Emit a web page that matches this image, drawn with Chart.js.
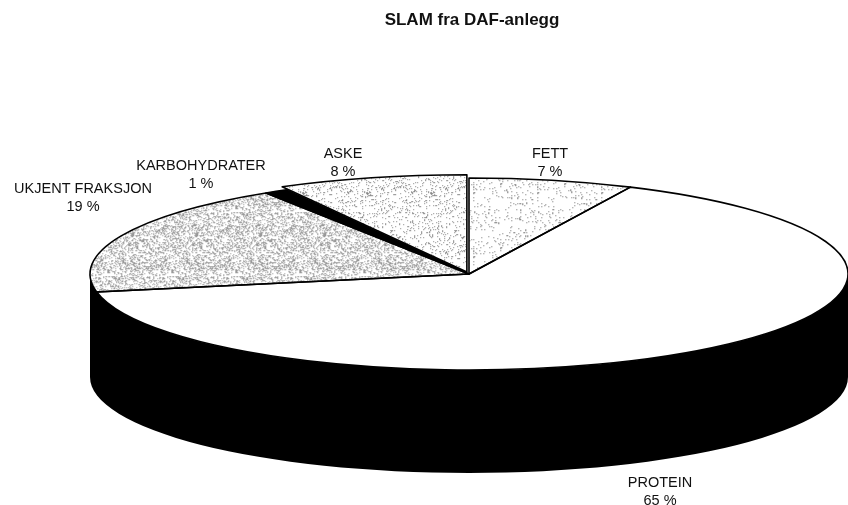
<!DOCTYPE html>
<html>
<head>
<meta charset="utf-8">
<script src="https://cdn.jsdelivr.net/npm/chart.js@4"></script>
<style>
  body { margin: 0; background: #fff; }
</style>
</head>
<body>
<canvas id="slam" width="848" height="505"></canvas>
<script>
const categories = ["FETT", "PROTEIN", "UKJENT FRAKSJON", "KARBOHYDRATER", "ASKE"];
const shares = [7, 65, 19, 1, 8];

// look of the 3d disc
const view = { cx: 469, cy: 274, rx: 379, ry: 96, depth: 103 };
const pulledOut = [0, 0, 0, 0, 20];
const labelSpots = [[550, 154], [660, 483], [83, 189], [201, 166], [343, 154]];
const labelFont = '14.5px "Liberation Sans", Arial, sans-serif';

// speckled fills like the printed original
function stipple(density, ink, seed) {
    const size = 64;
    const c = document.createElement('canvas');
    c.width = c.height = size;
    const g = c.getContext('2d');
    g.fillStyle = '#fff';
    g.fillRect(0, 0, size, size);
    g.fillStyle = ink;
    for (let n = 0; n < size * size; n++) {
        let h = Math.imul(n + seed * 7919, 0x9e3779b1);
        h ^= h >>> 16;
        h = Math.imul(h, 0x85ebca6b);
        h ^= h >>> 13;
        h = Math.imul(h, 0xc2b2ae35);
        h ^= h >>> 16;
        if ((h >>> 0) % 1000 < density * 1000) g.fillRect(n % size, Math.floor(n / size), 1, 1);
    }
    return g.createPattern(c, 'repeat');
}

const fills = [stipple(0.06, '#777', 1), '#fff', stipple(0.34, '#999', 2), '#000', stipple(0.12, '#888', 3)];

const tilt = {
    id: 'tilt',
    beforeDatasetsDraw(chart) {
        const ctx = chart.ctx;
        const a = chart.getDatasetMeta(0).data[0];
        const sx = view.rx / a.outerRadius, sy = view.ry / a.outerRadius;
        fills.forEach(f => { if (typeof f !== 'string') f.setTransform(new DOMMatrix([1 / sx, 0, 0, 1 / sy, 0, 0])); });
        ctx.save();
        ctx.translate(view.cx, view.cy);
        ctx.scale(sx, sy);
        ctx.translate(-a.x, -a.y);
        // side wall of the disc
        ctx.fillStyle = '#000';
        ctx.beginPath();
        ctx.arc(a.x, a.y, a.outerRadius, 0, Math.PI);
        ctx.arc(a.x, a.y + view.depth / sy, a.outerRadius, Math.PI, 0, true);
        ctx.closePath();
        ctx.fill();
    },
    afterDatasetsDraw(chart) {
        const ctx = chart.ctx;
        const arcs = chart.getDatasetMeta(0).data;
        // outlines, built in the tilted space but stroked flat
        arcs.forEach(arc => {
            const off = (arc.options.offset || 0) / 4;
            const mid = (arc.startAngle + arc.endAngle) / 2;
            const circ = arc.endAngle - arc.startAngle;
            const x = arc.x + Math.cos(mid) * off, y = arc.y + Math.sin(mid) * off;
            const r = arc.outerRadius + off * (1 - Math.sin(Math.min(Math.PI, circ)));
            ctx.beginPath();
            ctx.moveTo(x, y);
            ctx.arc(x, y, r, arc.startAngle, arc.endAngle);
            ctx.closePath();
            ctx.save();
            ctx.setTransform(1, 0, 0, 1, 0, 0);
            ctx.lineWidth = 1.6;
            ctx.lineJoin = 'round';
            ctx.strokeStyle = '#000';
            ctx.stroke();
            ctx.restore();
        });
        ctx.restore();

        ctx.save();
        ctx.font = labelFont;
        ctx.fillStyle = '#111';
        ctx.textAlign = 'center';
        ctx.textBaseline = 'middle';
        categories.forEach((name, i) => {
            const [lx, ly] = labelSpots[i];
            ctx.fillText(name, lx, ly);
            ctx.fillText(shares[i] + ' %', lx, ly + 18);
        });
        ctx.restore();
    }
};

new Chart(document.getElementById('slam'), {
    type: 'pie',
    data: {
        labels: categories,
        datasets: [{
            data: shares,
            backgroundColor: fills,
            borderWidth: 0,
            offset: pulledOut,
            hoverOffset: 0,
            clip: false
        }]
    },
    options: {
        responsive: false,
        animation: false,
        events: [],
        layout: { padding: { left: 96 } },
        plugins: {
            legend: { display: false },
            tooltip: { enabled: false },
            title: {
                display: true,
                text: 'SLAM fra DAF-anlegg',
                color: '#111',
                font: { family: '"Liberation Sans", Arial, sans-serif', size: 17, weight: 'bold' },
                padding: { top: 10, bottom: 10 }
            }
        }
    },
    plugins: [tilt]
});
</script>
</body>
</html>
